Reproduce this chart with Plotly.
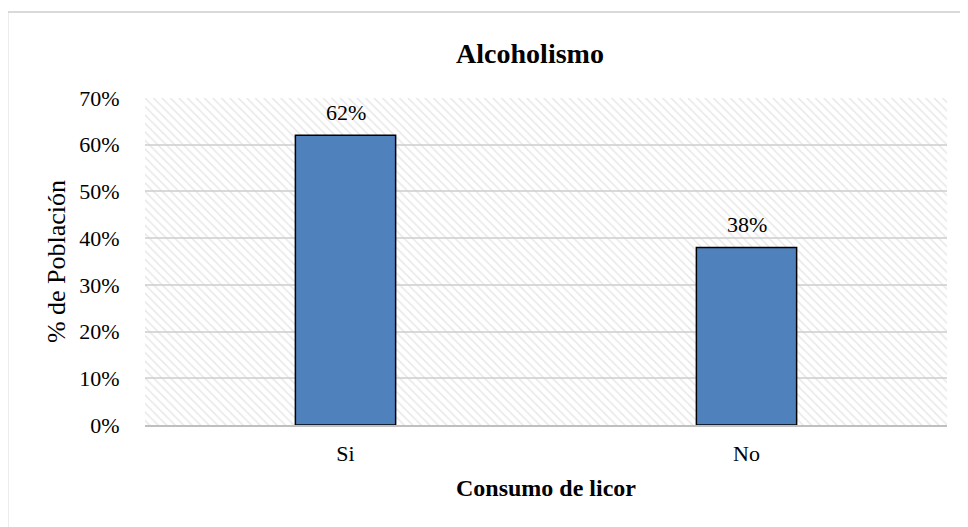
import plotly.graph_objects as go

categories = ["Si", "No"]
values = [0.62, 0.38]
y_max = 0.70
y_ticks = [0, 0.1, 0.2, 0.3, 0.4, 0.5, 0.6, 0.7]

FONT = "Liberation Serif"
x_pos = list(range(len(categories)))

fig = go.Figure()

# hatched plot-area background
fig.add_trace(go.Bar(
    x=[(len(categories) - 1) / 2], y=[y_max], width=[len(categories)],
    marker=dict(color="rgba(0,0,0,0)", line=dict(width=0),
                pattern=dict(shape="\\", fgcolor="#d0d0d0", bgcolor="rgba(0,0,0,0)",
                             size=6, solidity=0.25)),
    hoverinfo="skip", showlegend=False,
))

fig.add_trace(go.Bar(
    x=x_pos, y=values, width=0.25,
    marker=dict(color="#4F81BD", line=dict(color="#000000", width=1.5)),
    hoverinfo="y", showlegend=False,
))

annotations = [
    dict(x=xp, y=v, xref="x", yref="y", text=f"{v:.0%}", showarrow=False,
         yanchor="middle", yshift=23,
         font=dict(family=FONT, size=22, color="#000000"))
    for xp, v in zip(x_pos, values)
]

fig.update_layout(
    width=968, height=527,
    barmode="overlay",
    paper_bgcolor="white", plot_bgcolor="white",
    margin=dict(l=137, r=29, t=90, b=110),
    title=dict(text="<b>Alcoholismo</b>", x=(530 - 8) / 968, xanchor="center",
               y=1 - (53 - 8) / 527, yanchor="middle",
               font=dict(family=FONT, size=28, color="#000000")),
    font=dict(family=FONT, color="#000000"),
    annotations=annotations,
    xaxis=dict(
        range=[-0.5, len(categories) - 0.5],
        tickvals=x_pos, ticktext=categories,
        tickfont=dict(family=FONT, size=22, color="#000000"),
        showgrid=False, zeroline=False,
        showline=True, linecolor="#bfbfbf", linewidth=1.5,
        ticks="outside", ticklen=8, tickcolor="rgba(0,0,0,0)",
        title=dict(text="<b>Consumo de licor</b>", font=dict(family=FONT, size=24, color="#000000"),
                   standoff=14),
    ),
    yaxis=dict(
        range=[0, y_max], tickvals=y_ticks, tickformat=".0%",
        tickfont=dict(family=FONT, size=22, color="#000000"),
        showgrid=True, gridcolor="#d9d9d9", gridwidth=1.5,
        zeroline=False, showline=False,
        ticks="outside", ticklen=20, tickcolor="rgba(0,0,0,0)",
        title=dict(text="% de Población", font=dict(family=FONT, size=26, color="#000000"),
                   standoff=6),
    ),
    shapes=[dict(type="rect", xref="paper", yref="paper",
                 x0=(7.5 - 145) / 802, x1=1.1, y0=-0.4, y1=(425 - 12) / 327,
                 line=dict(color="#d9d9d9", width=2), fillcolor="rgba(0,0,0,0)", layer="below")],
)

fig.write_html("out.html")
